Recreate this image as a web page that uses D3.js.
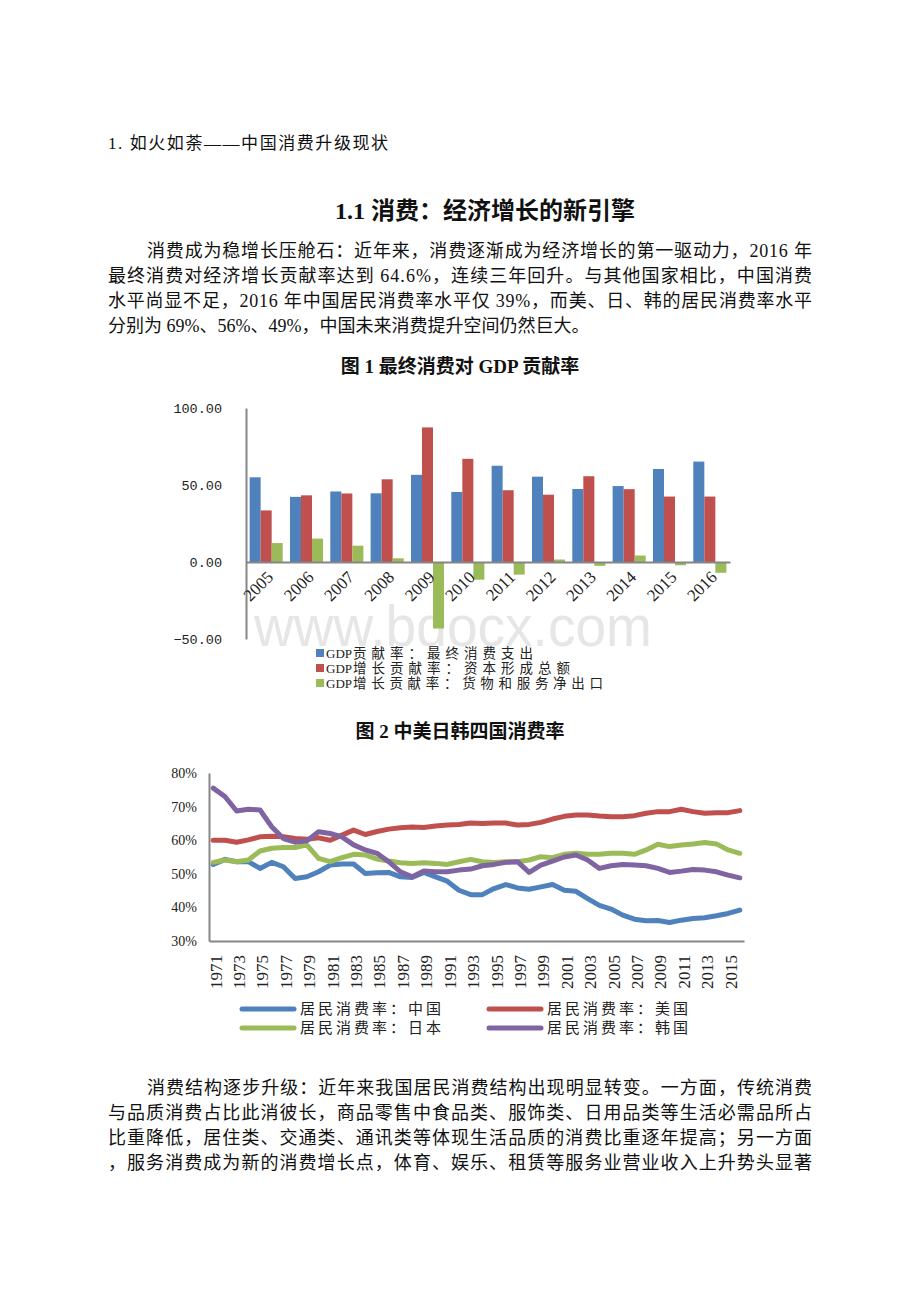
<!DOCTYPE html>
<html>
<head>
<meta charset="utf-8">
<script src="https://cdn.jsdelivr.net/npm/d3@7"></script>
<style>
  body { margin: 0; background: #fff; }
  text { font-family: "Liberation Serif", "Noto Sans CJK SC", serif; fill: #111; }
</style>
</head>
<body>
<script>
// ---- data: figure 1 (GDP contribution, %) ----
const barYears = ["2005","2006","2007","2008","2009","2010","2011","2012","2013","2014","2015","2016"];
const consumption = [55.0, 42.3, 45.8, 44.6, 56.6, 45.5, 62.5, 55.4, 47.4, 49.3, 60.4, 65.2];
const capital     = [33.5, 43.3, 44.5, 53.7, 87.4, 67.0, 46.6, 43.7, 55.7, 47.3, 42.5, 42.5];
const netExports  = [12.3, 15.2, 10.6, 2.4, -43.2, -11.5, -8.2, 1.6, -2.5, 4.2, -2.1, -7.0];
const barSeries = ["贡献率：最终消费支出", "增长贡献率：资本形成总额", "增长贡献率：货物和服务净出口"];
const barTicks = [-50, 0, 50, 100];

// ---- data: figure 2 (household consumption rate, %) ----
const lineYears = d3.range(1971, 2017);
const china = [52.8,54.3,53.6,53.6,51.6,53.4,52.1,48.6,49.1,50.6,52.6,52.9,52.9,50.1,50.3,
               50.4,49.1,48.9,50.4,49.1,47.8,45.1,43.8,43.8,45.6,46.8,45.8,45.4,46.1,46.8,
               45.1,44.8,42.6,40.6,39.5,37.7,36.5,36.0,36.1,35.5,36.2,36.7,36.9,37.5,38.2,39.2];
const usa   = [60.0,60.0,59.4,60.1,61.0,61.2,61.0,60.5,60.3,60.7,60.0,61.5,63.0,61.7,62.6,
               63.3,63.7,63.9,63.8,64.2,64.5,64.7,65.1,65.0,65.1,65.1,64.5,64.7,65.3,66.3,
               67.1,67.5,67.5,67.2,67.0,67.0,67.3,68.0,68.5,68.5,69.2,68.5,68.0,68.2,68.2,68.8];
const japan = [53.4,54.1,53.6,54.1,56.8,57.6,57.8,57.8,58.6,54.6,53.6,54.8,55.8,55.6,54.4,
               53.8,53.3,53.1,53.3,53.1,52.8,53.6,54.3,53.6,53.4,53.6,53.6,54.1,55.1,54.8,
               55.8,56.1,55.8,55.8,56.1,56.1,55.8,57.1,58.8,58.1,58.6,58.9,59.3,58.9,57.1,56.1];
const korea = [75.5,73.0,68.7,69.2,69.0,64.0,60.5,59.4,59.8,62.5,62.0,61.0,58.6,57.1,56.1,
               53.6,50.6,49.1,50.8,50.6,50.6,51.1,51.4,52.4,52.8,53.4,53.6,50.4,52.6,53.8,
               55.0,55.6,54.1,51.6,52.4,52.8,52.6,52.4,51.6,50.4,50.8,51.3,51.1,50.6,49.6,48.8];
const lineNames = ["居民消费率：中国", "居民消费率：美国", "居民消费率：日本", "居民消费率：韩国"];
const lineTicks = [30, 40, 50, 60, 70, 80];

// ---- page text ----
const para1 = [
  "消费成为稳增长压舱石：近年来，消费逐渐成为经济增长的第一驱动力，2016 年",
  "最终消费对经济增长贡献率达到 64.6%，连续三年回升。与其他国家相比，中国消费",
  "水平尚显不足，2016 年中国居民消费率水平仅 39%，而美、日、韩的居民消费率水平",
  "分别为 69%、56%、49%，中国未来消费提升空间仍然巨大。"
];
const para2 = [
  "消费结构逐步升级：近年来我国居民消费结构出现明显转变。一方面，传统消费",
  "与品质消费占比此消彼长，商品零售中食品类、服饰类、日用品类等生活必需品所占",
  "比重降低，居住类、交通类、通讯类等体现生活品质的消费比重逐年提高；另一方面",
  "，服务消费成为新的消费增长点，体育、娱乐、租赁等服务业营业收入上升势头显著"
];

const colors = ["#4F81BD", "#C0504D", "#9BBB59", "#8064A2"];
const axisGray = "#868686";

const svg = d3.select("body").append("svg")
    .attr("width", 920)
    .attr("height", 1302);

svg.append("rect").attr("width", 920).attr("height", 1302).attr("fill", "#fff");

// section heading
svg.append("text").attr("x", 108).attr("y", 149)
    .style("font-size", "17px")
    .attr("textLength", 280)
    .text("1. 如火如荼——中国消费升级现状");

svg.append("text").attr("x", 485).attr("y", 219)
    .attr("text-anchor", "middle")
    .style("font-size", "24px").style("font-weight", "bold")
    .text("1.1 消费：经济增长的新引擎");

// paragraph writer, justified lines except the last one
function paragraph(lines, top, justifyLast) {
    lines.forEach((t, i) => {
        const x = i === 0 ? 147 : 108;
        const txt = svg.append("text")
            .attr("x", x)
            .attr("y", top + i * 25)
            .style("font-size", "18px")
            .text(t);
        if (i < lines.length - 1 || justifyLast) {
            txt.attr("textLength", 812 - x).attr("lengthAdjust", "spacing");
        }
    });
}
paragraph(para1, 257, false);
paragraph(para2, 1094, true);

// figure titles
svg.append("text").attr("x", 460).attr("y", 373)
    .attr("text-anchor", "middle")
    .style("font-size", "19px").style("font-weight", "bold")
    .text("图 1 最终消费对 GDP 贡献率");

svg.append("text").attr("x", 460).attr("y", 738)
    .attr("text-anchor", "middle")
    .style("font-size", "19px").style("font-weight", "bold")
    .text("图 2 中美日韩四国消费率");

// watermark
svg.append("text").attr("x", 254).attr("y", 646)
    .style("font-family", "'Liberation Sans', sans-serif")
    .style("font-size", "57px")
    .style("fill", "#e6e6e6")
    .attr("textLength", 398).attr("lengthAdjust", "spacingAndGlyphs")
    .text("www.bdocx.com");

// ================= figure 1: grouped bars =================
const barData = barYears.map((yr, i) => ({ year: yr, values: [consumption[i], capital[i], netExports[i]] }));

const x0 = d3.scaleBand().domain(barYears).range([246, 730]).paddingInner(0.18).paddingOuter(0.09);
const x1 = d3.scaleBand().domain([0, 1, 2]).range([0, x0.bandwidth()]);
const yBar = d3.scaleLinear().domain([-50, 100]).range([639, 408]);

const g1 = svg.append("g");

g1.selectAll("g.year")
    .data(barData)
    .enter()
    .append("g")
    .attr("class", "year")
    .attr("transform", d => `translate(${x0(d.year)},0)`)
    .selectAll("rect")
    .data(d => d.values)
    .enter()
    .append("rect")
    .attr("x", (v, i) => x1(i))
    .attr("y", v => yBar(Math.max(0, v)))
    .attr("width", x1.bandwidth())
    .attr("height", v => Math.abs(yBar(v) - yBar(0)))
    .attr("fill", (v, i) => colors[i]);

// value axis
const yAxisBar = g1.append("g")
    .attr("transform", "translate(246,0)")
    .call(d3.axisLeft(yBar).tickValues(barTicks).tickSize(0).tickPadding(24).tickFormat(d3.format(".2f")));
yAxisBar.select(".domain").attr("stroke", axisGray).attr("stroke-width", 2);
yAxisBar.selectAll("text")
    .style("font-family", "'Liberation Mono', monospace")
    .style("font-size", "13.5px")
    .style("fill", "#222");

// category axis on the zero line
const xAxisBar = g1.append("g")
    .attr("transform", `translate(0,${yBar(0)})`)
    .call(d3.axisBottom(x0).tickSize(0).tickSizeOuter(0));
xAxisBar.select(".domain").attr("stroke", axisGray).attr("stroke-width", 2);
xAxisBar.selectAll("text")
    .attr("x", 0).attr("y", 0).attr("dy", "0.35em")
    .attr("text-anchor", "end")
    .attr("transform", "translate(4,12) rotate(-45)")
    .style("font-family", "'Liberation Serif', serif")
    .style("font-size", "17px")
    .style("fill", "#222");

// legend: "GDP" kept tight, the Chinese part spread out like the original
const legend1 = g1.append("g");
const legendRows1 = [653, 668, 683];
const legendEnds1 = [533, 570, 603];
barSeries.forEach((name, i) => {
    legend1.append("rect")
        .attr("x", 316).attr("y", legendRows1[i] - 4)
        .attr("width", 8).attr("height", 8)
        .attr("fill", colors[i]);
    legend1.append("text")
        .attr("x", 326).attr("y", legendRows1[i] + 5)
        .style("font-size", "13px")
        .style("fill", "#222")
        .text("GDP");
    legend1.append("text")
        .attr("x", 353).attr("y", legendRows1[i] + 5)
        .attr("textLength", legendEnds1[i] - 353).attr("lengthAdjust", "spacing")
        .style("font-size", "13.5px")
        .style("fill", "#222")
        .text(name);
});

// ================= figure 2: lines =================
const xLine = d3.scalePoint().domain(lineYears).range([209, 744]).padding(0.36);
const yLine = d3.scaleLinear().domain([30, 80]).range([941, 773]);

const g2 = svg.append("g");

const yAxisLine = g2.append("g")
    .attr("transform", "translate(209,0)")
    .call(d3.axisLeft(yLine).tickValues(lineTicks).tickSize(0).tickPadding(12).tickFormat(d => d + "%"));
yAxisLine.select(".domain").attr("stroke", axisGray).attr("stroke-width", 2);
yAxisLine.selectAll("text")
    .style("font-family", "'Liberation Serif', serif")
    .style("font-size", "14px")
    .style("fill", "#222");

const xAxisLine = g2.append("g")
    .attr("transform", "translate(0,941)")
    .call(d3.axisBottom(xLine)
        .tickValues(lineYears.filter(y => (y - 1971) % 2 === 0 && y <= 2015))
        .tickSize(0).tickSizeOuter(0));
xAxisLine.select(".domain").attr("stroke", axisGray).attr("stroke-width", 2);
xAxisLine.selectAll("text")
    .attr("x", 0).attr("y", 0).attr("dy", "0.35em")
    .attr("text-anchor", "end")
    .attr("transform", "translate(2,14) rotate(-90)")
    .style("font-family", "'Liberation Serif', serif")
    .style("font-size", "17px")
    .style("fill", "#222");

const lineSeries = [china, usa, japan, korea];
const line = d3.line()
    .x((v, i) => xLine(lineYears[i]))
    .y(v => yLine(v));

g2.selectAll("path.series")
    .data(lineSeries)
    .enter()
    .append("path")
    .attr("class", "series")
    .attr("d", line)
    .attr("fill", "none")
    .attr("stroke", (d, i) => colors[i])
    .attr("stroke-width", 5)
    .attr("stroke-linejoin", "round")
    .attr("stroke-linecap", "round");

// legend, two columns
const legendPos2 = [[240, 1009], [487, 1009], [240, 1028], [487, 1028]];
legendPos2.forEach(([lx, ly], k) => {
    g2.append("line")
        .attr("x1", lx + 2).attr("x2", lx + 54)
        .attr("y1", ly).attr("y2", ly)
        .attr("stroke", colors[k])
        .attr("stroke-width", 5)
        .attr("stroke-linecap", "round");
    g2.append("text")
        .attr("x", lx + 60).attr("y", ly + 5)
        .attr("textLength", 141).attr("lengthAdjust", "spacing")
        .style("font-size", "15px")
        .style("fill", "#222")
        .text(lineNames[k]);
});
</script>
</body>
</html>
